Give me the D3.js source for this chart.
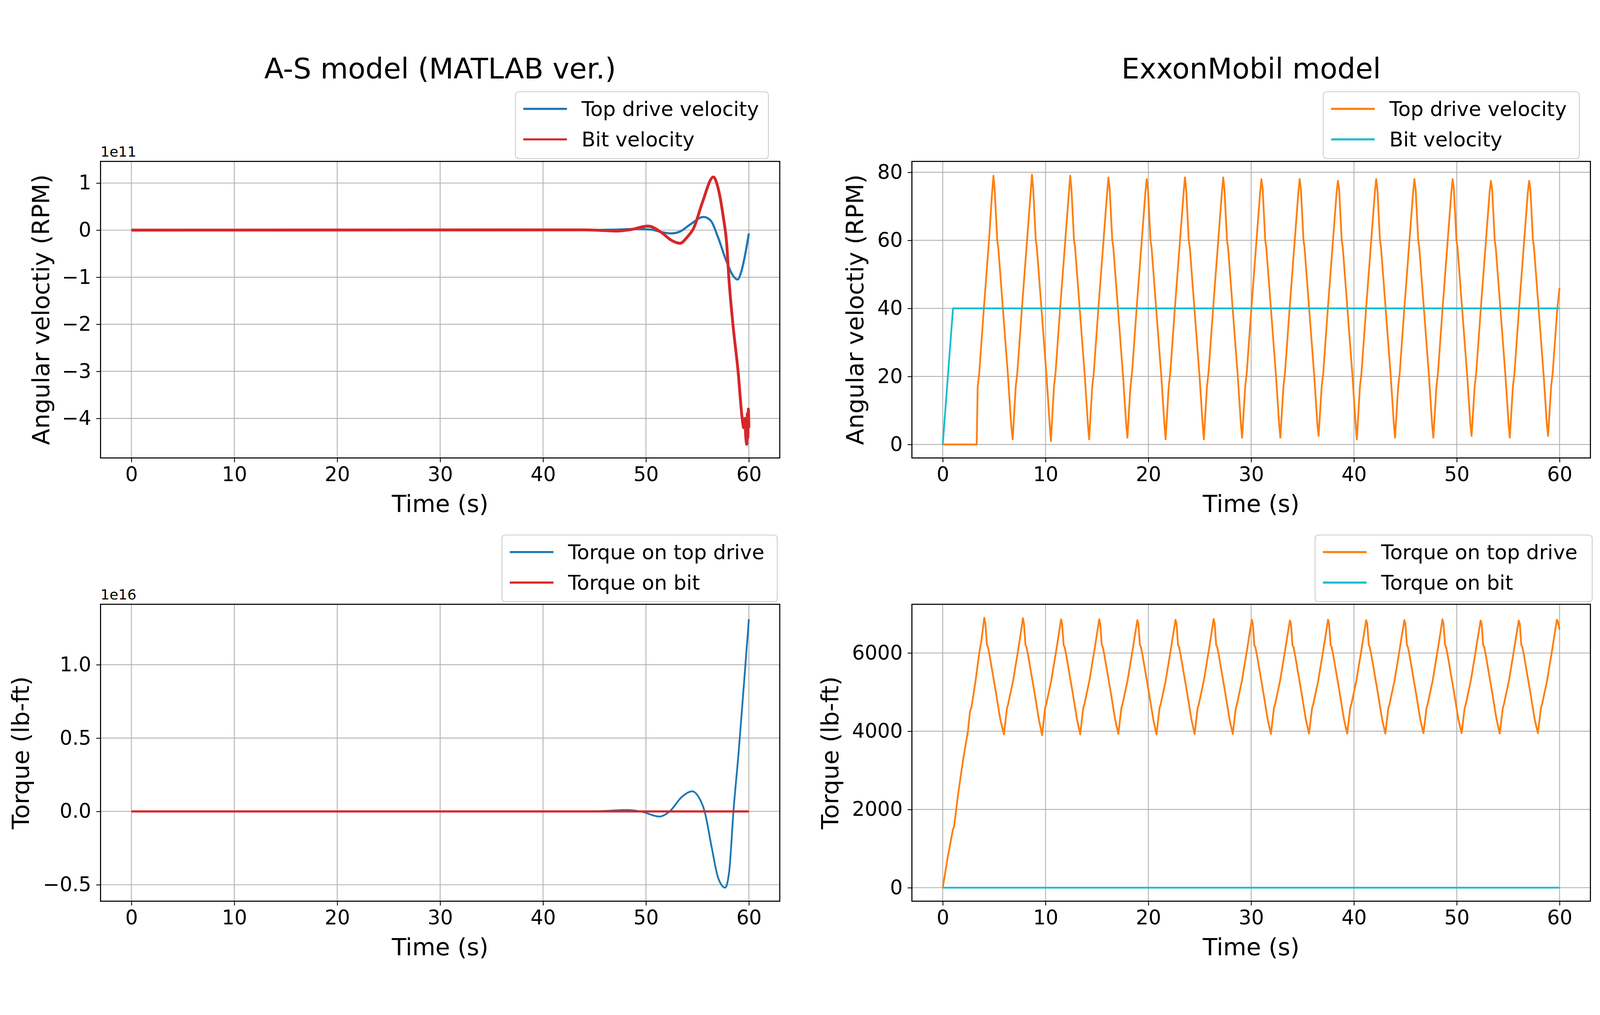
<!DOCTYPE html>
<html>
<head>
<meta charset="utf-8">
<script src="https://cdn.jsdelivr.net/npm/d3@7"></script>
<style>
  html, body { margin: 0; padding: 0; background: #fff; overflow: hidden; }
  svg { font-family: "DejaVu Sans", sans-serif; display: block; width: 100vw; height: 100vh; }
</style>
</head>
<body>
<svg id="fig" viewBox="0 0 4504 2599" preserveAspectRatio="xMidYMid meet"></svg>
<script>
// ---- data ----
var timeTicks = [0, 10, 20, 30, 40, 50, 60];

// A-S model, angular velocity (x 1e11 RPM)
var asTopVel = [[0,0],[44,0],[47,0.01],[49,0.025],[50.5,0.01],[51.5,-0.04],[52.45,-0.07],[53.3,-0.03],[54.3,0.12],
  [55.6,0.28],[56.3,0.2],[57,-0.15],[57.8,-0.65],[58.5,-0.98],[58.9,-1.05],[59.3,-0.85],[59.7,-0.45],[60,-0.07]];
var asBitVel = [[0,0],[44,0.005],[46,-0.01],[47,-0.02],[48.5,0.01],[50.2,0.085],[51.5,-0.05],[52.5,-0.22],[53.3,-0.28],
  [54,-0.15],[54.65,0.05],[55.5,0.6],[56.55,1.13],[57,0.9],[57.5,0.3],[57.85,-0.3],[58.05,-1],[58.45,-2],[58.95,-3],
  [59.35,-4],[59.5,-4.2],[59.6,-4.0],[59.7,-4.4],[59.8,-4.55],[59.85,-3.9],[59.9,-4.4],[59.95,-3.8],[60,-4.2]];
var asVelTicks = [-4, -3, -2, -1, 0, 1];

// A-S model, torque (x 1e16 lb-ft)
var asTopTorque = [[0,0],[44,0],[46,0.003],[48.1,0.01],[49.5,0],[51.3,-0.035],[52.3,0],[53.5,0.1],[54.5,0.137],
  [55.1,0.1],[55.7,0],[56.4,-0.25],[57,-0.45],[57.7,-0.52],[58.1,-0.4],[58.5,0],[59,0.4],[59.5,0.85],[60,1.31]];
var asBitTorque = [[0,0],[60,0]];
var asTorqueTicks = [-0.5, 0.0, 0.5, 1.0];

// ExxonMobil model, angular velocity (RPM)
var xmTopVel = [[0,0],[3.3,0],[3.4,17],[3.55,21],[4.0,40],[4.5,60],[4.8,74],[4.93,79],[5.05,75],[5.3,60],[5.4,58],[5.85,40],[6.35,20],[6.65,6],
  [6.80,1.5],[7.10,17],[7.25,21],[7.70,40],[8.20,60],[8.55,74],[8.68,79.3],[8.80,75],[9.05,60],[9.15,58],[9.60,40],[10.10,20],[10.40,6],
  [10.52,1],[10.82,17],[10.97,21],[11.42,40],[11.92,60],[12.27,74],[12.40,79],[12.52,75],[12.77,60],[12.87,58],[13.32,40],[13.82,20],[14.12,6],
  [14.24,1.5],[14.54,17],[14.69,21],[15.14,40],[15.64,60],[15.99,74],[16.12,78.5],[16.24,75],[16.49,60],[16.59,58],[17.04,40],[17.54,20],[17.84,6],
  [17.96,2],[18.26,17],[18.41,21],[18.86,40],[19.36,60],[19.71,74],[19.84,78],[19.96,75],[20.21,60],[20.31,58],[20.76,40],[21.26,20],[21.56,6],
  [21.68,1.5],[21.98,17],[22.13,21],[22.58,40],[23.08,60],[23.43,74],[23.56,78.5],[23.68,75],[23.93,60],[24.03,58],[24.48,40],[24.98,20],[25.28,6],
  [25.40,1.5],[25.70,17],[25.85,21],[26.30,40],[26.80,60],[27.15,74],[27.28,78.5],[27.40,75],[27.65,60],[27.75,58],[28.20,40],[28.70,20],[29.00,6],
  [29.12,2],[29.42,17],[29.57,21],[30.02,40],[30.52,60],[30.87,74],[31.00,78],[31.12,75],[31.37,60],[31.47,58],[31.92,40],[32.42,20],[32.72,6],
  [32.84,2],[33.14,17],[33.29,21],[33.74,40],[34.24,60],[34.59,74],[34.72,78],[34.84,75],[35.09,60],[35.19,58],[35.64,40],[36.14,20],[36.44,6],
  [36.56,2.5],[36.86,17],[37.01,21],[37.46,40],[37.96,60],[38.31,74],[38.44,77.5],[38.56,75],[38.81,60],[38.91,58],[39.36,40],[39.86,20],[40.16,6],
  [40.28,1.5],[40.58,17],[40.73,21],[41.18,40],[41.68,60],[42.03,74],[42.16,78],[42.28,75],[42.53,60],[42.63,58],[43.08,40],[43.58,20],[43.88,6],
  [44.00,2],[44.30,17],[44.45,21],[44.90,40],[45.40,60],[45.75,74],[45.88,78],[46.00,75],[46.25,60],[46.35,58],[46.80,40],[47.30,20],[47.60,6],
  [47.72,2],[48.02,17],[48.17,21],[48.62,40],[49.12,60],[49.47,74],[49.60,78],[49.72,75],[49.97,60],[50.07,58],[50.52,40],[51.02,20],[51.32,6],
  [51.44,2.5],[51.74,17],[51.89,21],[52.34,40],[52.84,60],[53.19,74],[53.32,77.5],[53.44,75],[53.69,60],[53.79,58],[54.24,40],[54.74,20],[55.04,6],
  [55.16,2],[55.46,17],[55.61,21],[56.06,40],[56.56,60],[56.91,74],[57.04,77.5],[57.16,75],[57.41,60],[57.51,58],[57.96,40],[58.46,20],[58.76,6],
  [58.88,2.5],[59.18,17],[59.33,21],[59.78,40],[60,46]];
var xmBitVel = [[0,0],[1,40],[60,40]];
var xmVelTicks = [0, 20, 40, 60, 80];

// ExxonMobil model, torque (lb-ft)
var xmTopTorque = [[0,0],[0.5,800],[1.0,1500],[1.1,1560],[1.5,2400],[2.0,3300],[2.45,4000],[2.65,4500],[2.8,4620],[3.2,5300],[3.55,6000],
  [3.75,6300],[4.04,6900],[4.15,6750],[4.3,6200],[4.4,6150],[4.55,5950],[5.2,4950],[5.6,4300],
  [5.95,3920],[6.25,4600],[6.35,4680],[6.85,5300],[7.35,6100],[7.50,6350],[7.80,6890],[7.90,6750],[8.05,6200],[8.15,6150],[8.30,5950],[8.95,4950],[9.35,4300],
  [9.66,3900],[9.96,4600],[10.06,4680],[10.56,5300],[11.06,6100],[11.21,6350],[11.51,6860],[11.61,6750],[11.76,6200],[11.86,6150],[12.01,5950],[12.66,4950],[13.06,4300],
  [13.37,3920],[13.67,4600],[13.77,4680],[14.27,5300],[14.77,6100],[14.92,6350],[15.22,6860],[15.32,6750],[15.47,6200],[15.57,6150],[15.72,5950],[16.37,4950],[16.77,4300],
  [17.08,3930],[17.38,4600],[17.48,4680],[17.98,5300],[18.48,6100],[18.63,6350],[18.93,6840],[19.03,6750],[19.18,6200],[19.28,6150],[19.43,5950],[20.08,4950],[20.48,4300],
  [20.79,3920],[21.09,4600],[21.19,4680],[21.69,5300],[22.19,6100],[22.34,6350],[22.64,6850],[22.74,6750],[22.89,6200],[22.99,6150],[23.14,5950],[23.79,4950],[24.19,4300],
  [24.50,3930],[24.80,4600],[24.90,4680],[25.40,5300],[25.90,6100],[26.05,6350],[26.35,6870],[26.45,6750],[26.60,6200],[26.70,6150],[26.85,5950],[27.50,4950],[27.90,4300],
  [28.21,3930],[28.51,4600],[28.61,4680],[29.11,5300],[29.61,6100],[29.76,6350],[30.06,6850],[30.16,6750],[30.31,6200],[30.41,6150],[30.56,5950],[31.21,4950],[31.61,4300],
  [31.92,3930],[32.22,4600],[32.32,4680],[32.82,5300],[33.32,6100],[33.47,6350],[33.77,6830],[33.87,6750],[34.02,6200],[34.12,6150],[34.27,5950],[34.92,4950],[35.32,4300],
  [35.63,3940],[35.93,4600],[36.03,4680],[36.53,5300],[37.03,6100],[37.18,6350],[37.48,6850],[37.58,6750],[37.73,6200],[37.83,6150],[37.98,5950],[38.63,4950],[39.03,4300],
  [39.34,3940],[39.64,4600],[39.74,4680],[40.24,5300],[40.74,6100],[40.89,6350],[41.19,6840],[41.29,6750],[41.44,6200],[41.54,6150],[41.69,5950],[42.34,4950],[42.74,4300],
  [43.05,3940],[43.35,4600],[43.45,4680],[43.95,5300],[44.45,6100],[44.60,6350],[44.90,6840],[45.00,6750],[45.15,6200],[45.25,6150],[45.40,5950],[46.05,4950],[46.45,4300],
  [46.76,3950],[47.06,4600],[47.16,4680],[47.66,5300],[48.16,6100],[48.31,6350],[48.61,6860],[48.71,6750],[48.86,6200],[48.96,6150],[49.11,5950],[49.76,4950],[50.16,4300],
  [50.47,3950],[50.77,4600],[50.87,4680],[51.37,5300],[51.87,6100],[52.02,6350],[52.32,6830],[52.42,6750],[52.57,6200],[52.67,6150],[52.82,5950],[53.47,4950],[53.87,4300],
  [54.18,3940],[54.48,4600],[54.58,4680],[55.08,5300],[55.58,6100],[55.73,6350],[56.03,6830],[56.13,6750],[56.28,6200],[56.38,6150],[56.53,5950],[57.18,4950],[57.58,4300],
  [57.89,3950],[58.19,4600],[58.29,4680],[58.79,5300],[59.29,6100],[59.44,6350],[59.74,6850],[59.84,6800],[60,6600]];
var xmBitTorque = [[0,0],[60,0]];
var xmTorqueTicks = [0, 2000, 4000, 6000];

var C_BLUE = "#1f77b4", C_RED = "#d62728", C_ORANGE = "#ff7f0e", C_CYAN = "#17becf";

// ---- layout ----
var svg = d3.select("#fig");
var fmtMinus = function (s) { return String(s).replace("-", "\u2212"); };

var panels = [
  { x0: 283, x1: 2195, y0: 325, y1: 1160, ydom: [-4.84, 1.46], ticks: asVelTicks, fmt: function (d) { return fmtMinus(d); },
    series: [[asTopVel, C_BLUE, 6], [asBitVel, C_RED, 8]], curve: d3.curveMonotoneX,
    ylabel: "Angular veloctiy (RPM)", ylx: 115, offset: "1e11",
    legend: { x: 1451, y: 129, w: 712, names: ["Top drive velocity", "Bit velocity"] } },
  { x0: 2567, x1: 4477, y0: 325, y1: 1160, ydom: [-3.96, 83.2], ticks: xmVelTicks, fmt: function (d) { return d; },
    series: [[xmTopVel, C_ORANGE, 5], [xmBitVel, C_CYAN, 5]], curve: d3.curveLinear,
    ylabel: "Angular veloctiy (RPM)", ylx: 2407,
    legend: { x: 3725, y: 129, w: 721, names: ["Top drive velocity", "Bit velocity"] } },
  { x0: 283, x1: 2195, y0: 1572, y1: 2408, ydom: [-0.612, 1.412], ticks: asTorqueTicks, fmt: function (d) { return fmtMinus(d.toFixed(1)); },
    series: [[asTopTorque, C_BLUE, 5], [asBitTorque, C_RED, 6]], curve: d3.curveMonotoneX,
    ylabel: "Torque (lb-ft)", ylx: 58, offset: "1e16",
    legend: { x: 1413, y: 1377, w: 775, names: ["Torque on top drive", "Torque on bit"] } },
  { x0: 2567, x1: 4477, y0: 1572, y1: 2408, ydom: [-345, 7245], ticks: xmTorqueTicks, fmt: function (d) { return d; },
    series: [[xmTopTorque, C_ORANGE, 5], [xmBitTorque, C_CYAN, 5]], curve: d3.curveLinear,
    ylabel: "Torque (lb-ft)", ylx: 2336,
    legend: { x: 3702, y: 1377, w: 780, names: ["Torque on top drive", "Torque on bit"] } }
];

panels.forEach(function (p) {
  var x = d3.scaleLinear().domain([-3, 63]).range([p.x0, p.x1]);
  var y = d3.scaleLinear().domain(p.ydom).range([p.y1, p.y0]);
  var g = svg.append("g");

  // grid
  g.selectAll(".gx").data(timeTicks).enter().append("line")
    .attr("x1", function (d) { return x(d); }).attr("x2", function (d) { return x(d); })
    .attr("y1", p.y0).attr("y2", p.y1).attr("stroke", "#b0b0b0").attr("stroke-width", 2.4);
  g.selectAll(".gy").data(p.ticks).enter().append("line")
    .attr("y1", function (d) { return y(d); }).attr("y2", function (d) { return y(d); })
    .attr("x1", p.x0).attr("x2", p.x1).attr("stroke", "#b0b0b0").attr("stroke-width", 2.4);

  // series
  var clipId = "clip" + p.x0 + "_" + p.y0;
  svg.append("clipPath").attr("id", clipId).append("rect")
    .attr("x", p.x0).attr("y", p.y0).attr("width", p.x1 - p.x0).attr("height", p.y1 - p.y0);
  var line = d3.line().x(function (d) { return x(d[0]); }).y(function (d) { return y(d[1]); }).curve(p.curve);
  p.series.forEach(function (s) {
    g.append("path").attr("d", line(s[0])).attr("fill", "none").attr("stroke", s[1])
      .attr("stroke-width", s[2]).attr("stroke-linejoin", "round").attr("clip-path", "url(#" + clipId + ")");
  });

  // axes
  var xa = g.append("g").attr("transform", "translate(0," + p.y1 + ")")
    .call(d3.axisBottom(x).tickValues(timeTicks).tickSize(12).tickPadding(14));
  var ya = g.append("g").attr("transform", "translate(" + p.x0 + ",0)")
    .call(d3.axisLeft(y).tickValues(p.ticks).tickFormat(p.fmt).tickSize(12).tickPadding(14));
  [xa, ya].forEach(function (a) {
    a.select(".domain").remove();
    a.selectAll("line").attr("stroke", "#000").attr("stroke-width", 2.4);
    a.selectAll("text").attr("font-size", 56).attr("fill", "#000").attr("font-family", "DejaVu Sans");
  });
  g.append("rect").attr("x", p.x0).attr("y", p.y0).attr("width", p.x1 - p.x0).attr("height", p.y1 - p.y0)
    .attr("fill", "none").attr("stroke", "#000").attr("stroke-width", 3);

  // labels
  g.append("text").attr("x", (p.x0 + p.x1) / 2).attr("y", p.y1 + 152).attr("text-anchor", "middle")
    .attr("font-size", 67).text("Time (s)");
  g.append("text").attr("transform", "translate(" + p.ylx + "," + (p.y0 + p.y1) / 2 + ") rotate(-90)")
    .attr("text-anchor", "middle").attr("dominant-baseline", "central").attr("font-size", 67).text(p.ylabel);
  if (p.offset) {
    g.append("text").attr("x", p.x0).attr("y", p.y0 - 14).attr("font-size", 40).text(p.offset);
  }

  // legend
  var L = p.legend;
  var lg = g.append("g").attr("transform", "translate(" + L.x + "," + L.y + ")");
  lg.append("rect").attr("width", L.w).attr("height", 188).attr("rx", 9)
    .attr("fill", "#fff").attr("fill-opacity", 0.8).attr("stroke", "#cccccc").attr("stroke-width", 2.4);
  L.names.forEach(function (n, i) {
    var cy = 48 + i * 86;
    lg.append("line").attr("x1", 22).attr("x2", 145).attr("y1", cy).attr("y2", cy)
      .attr("stroke", p.series[i][1]).attr("stroke-width", 6);
    lg.append("text").attr("x", 186).attr("y", cy).attr("dominant-baseline", "central")
      .attr("font-size", 57).text(n);
  });
});

// titles
svg.append("text").attr("x", 1239).attr("y", 92).attr("text-anchor", "middle").attr("font-size", 80).text("A-S model (MATLAB ver.)");
svg.append("text").attr("x", 3522).attr("y", 92).attr("text-anchor", "middle").attr("font-size", 80).text("ExxonMobil model");
</script>
</body>
</html>
